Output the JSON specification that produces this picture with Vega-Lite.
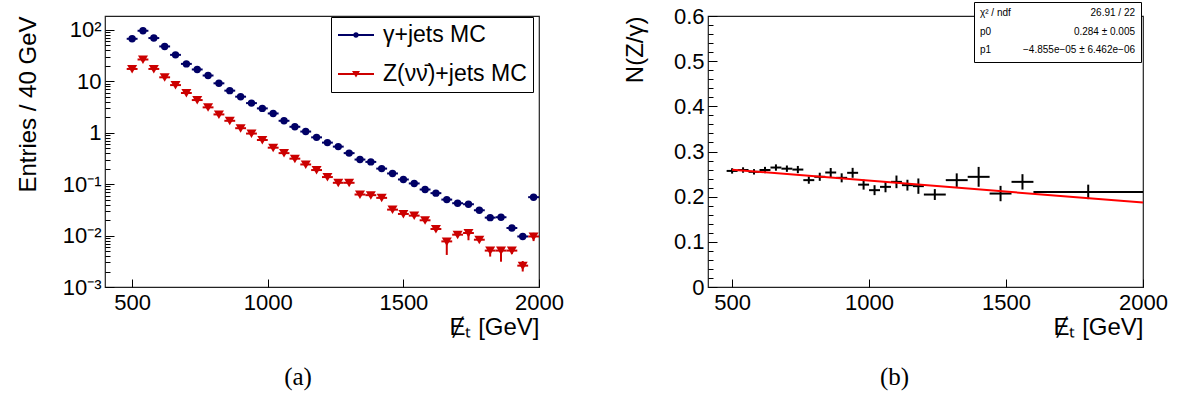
{
  "$schema": "https://vega.github.io/schema/vega-lite/v6.json",
  "padding": {"left": 15, "top": 0, "right": 5, "bottom": 2},
  "bounds": "flush",
  "spacing": 169,
  "background": "white",
  "datasets": {
    "spectra": [
      {"series": "γ+jets MC", "x": 500, "xlo": 480, "xhi": 520, "y": 66.7},
      {"series": "γ+jets MC", "x": 540, "xlo": 520, "xhi": 560, "y": 95.5},
      {"series": "γ+jets MC", "x": 580, "xlo": 560, "xhi": 600, "y": 68.9},
      {"series": "γ+jets MC", "x": 620, "xlo": 600, "xhi": 640, "y": 47.4},
      {"series": "γ+jets MC", "x": 660, "xlo": 640, "xhi": 680, "y": 32.5},
      {"series": "γ+jets MC", "x": 700, "xlo": 680, "xhi": 720, "y": 21.7},
      {"series": "γ+jets MC", "x": 740, "xlo": 720, "xhi": 760, "y": 16.9},
      {"series": "γ+jets MC", "x": 780, "xlo": 760, "xhi": 800, "y": 12.9},
      {"series": "γ+jets MC", "x": 820, "xlo": 800, "xhi": 840, "y": 9.1},
      {"series": "γ+jets MC", "x": 860, "xlo": 840, "xhi": 880, "y": 6.55},
      {"series": "γ+jets MC", "x": 900, "xlo": 880, "xhi": 920, "y": 5.0},
      {"series": "γ+jets MC", "x": 940, "xlo": 920, "xhi": 960, "y": 3.75},
      {"series": "γ+jets MC", "x": 980, "xlo": 960, "xhi": 1000, "y": 2.96},
      {"series": "γ+jets MC", "x": 1020, "xlo": 1000, "xhi": 1040, "y": 2.36},
      {"series": "γ+jets MC", "x": 1060, "xlo": 1040, "xhi": 1080, "y": 1.70},
      {"series": "γ+jets MC", "x": 1100, "xlo": 1080, "xhi": 1120, "y": 1.30},
      {"series": "γ+jets MC", "x": 1140, "xlo": 1120, "xhi": 1160, "y": 1.05},
      {"series": "γ+jets MC", "x": 1180, "xlo": 1160, "xhi": 1200, "y": 0.81},
      {"series": "γ+jets MC", "x": 1220, "xlo": 1200, "xhi": 1240, "y": 0.64},
      {"series": "γ+jets MC", "x": 1260, "xlo": 1240, "xhi": 1280, "y": 0.535},
      {"series": "γ+jets MC", "x": 1300, "xlo": 1280, "xhi": 1320, "y": 0.40},
      {"series": "γ+jets MC", "x": 1340, "xlo": 1320, "xhi": 1360, "y": 0.30},
      {"series": "γ+jets MC", "x": 1380, "xlo": 1360, "xhi": 1400, "y": 0.27},
      {"series": "γ+jets MC", "x": 1420, "xlo": 1400, "xhi": 1440, "y": 0.20},
      {"series": "γ+jets MC", "x": 1460, "xlo": 1440, "xhi": 1480, "y": 0.161},
      {"series": "γ+jets MC", "x": 1500, "xlo": 1480, "xhi": 1520, "y": 0.123},
      {"series": "γ+jets MC", "x": 1540, "xlo": 1520, "xhi": 1560, "y": 0.103},
      {"series": "γ+jets MC", "x": 1580, "xlo": 1560, "xhi": 1600, "y": 0.0785},
      {"series": "γ+jets MC", "x": 1620, "xlo": 1600, "xhi": 1640, "y": 0.0667},
      {"series": "γ+jets MC", "x": 1660, "xlo": 1640, "xhi": 1680, "y": 0.050},
      {"series": "γ+jets MC", "x": 1700, "xlo": 1680, "xhi": 1720, "y": 0.0425},
      {"series": "γ+jets MC", "x": 1740, "xlo": 1720, "xhi": 1760, "y": 0.0406},
      {"series": "γ+jets MC", "x": 1780, "xlo": 1760, "xhi": 1800, "y": 0.031},
      {"series": "γ+jets MC", "x": 1820, "xlo": 1800, "xhi": 1840, "y": 0.0223},
      {"series": "γ+jets MC", "x": 1860, "xlo": 1840, "xhi": 1880, "y": 0.0227},
      {"series": "γ+jets MC", "x": 1900, "xlo": 1880, "xhi": 1920, "y": 0.0140},
      {"series": "γ+jets MC", "x": 1940, "xlo": 1920, "xhi": 1960, "y": 0.0096},
      {"series": "γ+jets MC", "x": 1980, "xlo": 1960, "xhi": 2000, "y": 0.0557},
      {"series": "Z(νν̄)+jets MC", "x": 500, "xlo": 480, "xhi": 520, "y": 17.3},
      {"series": "Z(νν̄)+jets MC", "x": 540, "xlo": 520, "xhi": 560, "y": 26.4},
      {"series": "Z(νν̄)+jets MC", "x": 580, "xlo": 560, "xhi": 600, "y": 17.3},
      {"series": "Z(νν̄)+jets MC", "x": 620, "xlo": 600, "xhi": 640, "y": 11.9},
      {"series": "Z(νν̄)+jets MC", "x": 660, "xlo": 640, "xhi": 680, "y": 8.4},
      {"series": "Z(νν̄)+jets MC", "x": 700, "xlo": 680, "xhi": 720, "y": 5.9},
      {"series": "Z(νν̄)+jets MC", "x": 740, "xlo": 720, "xhi": 760, "y": 4.3},
      {"series": "Z(νν̄)+jets MC", "x": 780, "xlo": 760, "xhi": 800, "y": 3.1},
      {"series": "Z(νν̄)+jets MC", "x": 820, "xlo": 800, "xhi": 840, "y": 2.26},
      {"series": "Z(νν̄)+jets MC", "x": 860, "xlo": 840, "xhi": 880, "y": 1.70},
      {"series": "Z(νν̄)+jets MC", "x": 900, "xlo": 880, "xhi": 920, "y": 1.22},
      {"series": "Z(νν̄)+jets MC", "x": 940, "xlo": 920, "xhi": 960, "y": 0.96},
      {"series": "Z(νν̄)+jets MC", "x": 980, "xlo": 960, "xhi": 1000, "y": 0.72},
      {"series": "Z(νν̄)+jets MC", "x": 1020, "xlo": 1000, "xhi": 1040, "y": 0.51},
      {"series": "Z(νν̄)+jets MC", "x": 1060, "xlo": 1040, "xhi": 1080, "y": 0.40},
      {"series": "Z(νν̄)+jets MC", "x": 1100, "xlo": 1080, "xhi": 1120, "y": 0.312},
      {"series": "Z(νν̄)+jets MC", "x": 1140, "xlo": 1120, "xhi": 1160, "y": 0.241},
      {"series": "Z(νν̄)+jets MC", "x": 1180, "xlo": 1160, "xhi": 1200, "y": 0.1875},
      {"series": "Z(νν̄)+jets MC", "x": 1220, "xlo": 1200, "xhi": 1240, "y": 0.137},
      {"series": "Z(νν̄)+jets MC", "x": 1260, "xlo": 1240, "xhi": 1280, "y": 0.106},
      {"series": "Z(νν̄)+jets MC", "x": 1300, "xlo": 1280, "xhi": 1320, "y": 0.106},
      {"series": "Z(νν̄)+jets MC", "x": 1340, "xlo": 1320, "xhi": 1360, "y": 0.0627},
      {"series": "Z(νν̄)+jets MC", "x": 1380, "xlo": 1360, "xhi": 1400, "y": 0.061},
      {"series": "Z(νν̄)+jets MC", "x": 1420, "xlo": 1400, "xhi": 1440, "y": 0.054},
      {"series": "Z(νν̄)+jets MC", "x": 1460, "xlo": 1440, "xhi": 1480, "y": 0.0319},
      {"series": "Z(νν̄)+jets MC", "x": 1500, "xlo": 1480, "xhi": 1520, "y": 0.0263},
      {"series": "Z(νν̄)+jets MC", "x": 1540, "xlo": 1520, "xhi": 1560, "y": 0.0244},
      {"series": "Z(νν̄)+jets MC", "x": 1580, "xlo": 1560, "xhi": 1600, "y": 0.0198},
      {"series": "Z(νν̄)+jets MC", "x": 1620, "xlo": 1600, "xhi": 1640, "y": 0.0134},
      {"series": "Z(νν̄)+jets MC", "x": 1660, "xlo": 1640, "xhi": 1680, "y": 0.0077, "ylo": 0.0042, "yhi": 0.0089},
      {"series": "Z(νν̄)+jets MC", "x": 1700, "xlo": 1680, "xhi": 1720, "y": 0.0104},
      {"series": "Z(νν̄)+jets MC", "x": 1740, "xlo": 1720, "xhi": 1760, "y": 0.0112, "ylo": 0.0081, "yhi": 0.0128},
      {"series": "Z(νν̄)+jets MC", "x": 1780, "xlo": 1760, "xhi": 1800, "y": 0.0083},
      {"series": "Z(νν̄)+jets MC", "x": 1820, "xlo": 1800, "xhi": 1840, "y": 0.0051, "ylo": 0.0039, "yhi": 0.0058},
      {"series": "Z(νν̄)+jets MC", "x": 1860, "xlo": 1840, "xhi": 1880, "y": 0.0051, "ylo": 0.0031, "yhi": 0.0060},
      {"series": "Z(νν̄)+jets MC", "x": 1900, "xlo": 1880, "xhi": 1920, "y": 0.0051, "ylo": 0.0044, "yhi": 0.0058},
      {"series": "Z(νν̄)+jets MC", "x": 1940, "xlo": 1920, "xhi": 1960, "y": 0.0026, "ylo": 0.0020, "yhi": 0.0032},
      {"series": "Z(νν̄)+jets MC", "x": 1980, "xlo": 1960, "xhi": 2000, "y": 0.0096, "ylo": 0.0078, "yhi": 0.0113}
    ],
    "ratio": [
      {"x": 500, "xlo": 480, "xhi": 520, "y": 0.257, "ylo": 0.251, "yhi": 0.263},
      {"x": 540, "xlo": 520, "xhi": 560, "y": 0.259, "ylo": 0.253, "yhi": 0.265},
      {"x": 580, "xlo": 560, "xhi": 600, "y": 0.255, "ylo": 0.249, "yhi": 0.261},
      {"x": 620, "xlo": 600, "xhi": 640, "y": 0.259, "ylo": 0.252, "yhi": 0.266},
      {"x": 660, "xlo": 640, "xhi": 680, "y": 0.2645, "ylo": 0.2575, "yhi": 0.2715},
      {"x": 700, "xlo": 680, "xhi": 720, "y": 0.262, "ylo": 0.255, "yhi": 0.269},
      {"x": 740, "xlo": 720, "xhi": 760, "y": 0.260, "ylo": 0.252, "yhi": 0.268},
      {"x": 780, "xlo": 760, "xhi": 800, "y": 0.2366, "ylo": 0.2286, "yhi": 0.2446},
      {"x": 820, "xlo": 800, "xhi": 840, "y": 0.244, "ylo": 0.235, "yhi": 0.253},
      {"x": 860, "xlo": 840, "xhi": 880, "y": 0.2535, "ylo": 0.2435, "yhi": 0.2635},
      {"x": 900, "xlo": 880, "xhi": 920, "y": 0.2417, "ylo": 0.2317, "yhi": 0.2517},
      {"x": 940, "xlo": 920, "xhi": 960, "y": 0.2528, "ylo": 0.2418, "yhi": 0.2638},
      {"x": 980, "xlo": 960, "xhi": 1000, "y": 0.2266, "ylo": 0.2156, "yhi": 0.2376},
      {"x": 1020, "xlo": 1000, "xhi": 1040, "y": 0.2144, "ylo": 0.2034, "yhi": 0.2254},
      {"x": 1060, "xlo": 1040, "xhi": 1080, "y": 0.2217, "ylo": 0.2097, "yhi": 0.2337},
      {"x": 1100, "xlo": 1080, "xhi": 1120, "y": 0.2328, "ylo": 0.2188, "yhi": 0.2468},
      {"x": 1140, "xlo": 1120, "xhi": 1160, "y": 0.2255, "ylo": 0.2135, "yhi": 0.2375},
      {"x": 1180, "xlo": 1160, "xhi": 1200, "y": 0.2233, "ylo": 0.2063, "yhi": 0.2403},
      {"x": 1240, "xlo": 1200, "xhi": 1280, "y": 0.2047, "ylo": 0.1927, "yhi": 0.2167},
      {"x": 1320, "xlo": 1280, "xhi": 1360, "y": 0.2366, "ylo": 0.2216, "yhi": 0.2516},
      {"x": 1400, "xlo": 1360, "xhi": 1440, "y": 0.2439, "ylo": 0.2219, "yhi": 0.2659},
      {"x": 1480, "xlo": 1440, "xhi": 1520, "y": 0.2069, "ylo": 0.1899, "yhi": 0.2239},
      {"x": 1560, "xlo": 1520, "xhi": 1600, "y": 0.2328, "ylo": 0.2158, "yhi": 0.2498},
      {"x": 1800, "xlo": 1600, "xhi": 2000, "y": 0.2106, "ylo": 0.1946, "yhi": 0.2266}
    ],
    "fit": [
      {"x": 500, "y": 0.2597},
      {"x": 2000, "y": 0.1869}
    ],
    "stats": [
      {"ord": 1, "name": "χ² / ndf", "value": "26.91 / 22"},
      {"ord": 2, "name": "p0", "value": "0.284 ± 0.005"},
      {"ord": 3, "name": "p1", "value": "−4.855e−05 ± 6.462e−06"}
    ]
  },
  "hconcat": [
    {
      "width": 434,
      "height": 271,
      "title": {"text": "(a)", "orient": "bottom", "anchor": "middle", "frame": "group", "dx": -24, "offset": 26, "font": "Liberation Serif", "fontSize": 25, "fontWeight": "normal", "color": "black"},
      "data": {"name": "spectra"},
      "resolve": {"axis": {"y": "independent"}},
      "layer": [
        {
          "mark": {"type": "rule", "strokeWidth": 2},
          "encoding": {
            "x": {"field": "xlo", "type": "quantitative", "scale": {"domain": [400, 2000], "nice": false, "zero": false},
                  "axis": {"values": [500, 1000, 1500, 2000], "format": "d", "tickSize": -8, "labelPadding": 13, "title": "Ɇₜ [GeV]", "titleAnchor": "end", "titlePadding": 2}},
            "x2": {"field": "xhi"},
            "y": {"field": "y", "type": "quantitative", "scale": {"type": "log", "domain": [0.001, 185], "nice": false},
                  "axis": {"orient": "left", "values": [0.001, 0.01, 0.1, 1, 10, 100], "tickSize": -9, "labelPadding": 13,
                           "labelExpr": "round(log(datum.value)/LN10) == 2 ? '10²' : round(log(datum.value)/LN10) == 1 ? '10' : round(log(datum.value)/LN10) == 0 ? '1' : round(log(datum.value)/LN10) == -1 ? '10⁻¹' : round(log(datum.value)/LN10) == -2 ? '10⁻²' : '10⁻³'",
                           "title": "Entries / 40 GeV", "titleAnchor": "end", "titlePadding": 23, "minExtent": 42, "maxExtent": 42}},
            "color": {"field": "series", "type": "nominal",
                      "scale": {"domain": ["γ+jets MC", "Z(νν̄)+jets MC"], "range": ["#000066", "#cc0000"]},
                      "legend": {
                        "orient": "none", "legendX": 226, "legendY": 1, "title": null,
                        "strokeColor": "#000", "fillColor": "white", "padding": 6,
                        "labelFont": "Liberation Sans", "labelFontSize": 23, "labelColor": "black", "labelLimit": 400,
                        "labelOffset": 22, "rowPadding": 15, "symbolSize": 576, "symbolStrokeWidth": 0, "symbolOpacity": 1
                      }}
          }
        },
        {
          "mark": {"type": "rule", "strokeWidth": 2},
          "encoding": {
            "x": {"field": "x", "type": "quantitative", "scale": {"domain": [400, 2000], "nice": false, "zero": false}},
            "y": {"field": "ylo", "type": "quantitative", "scale": {"type": "log", "domain": [0.001, 185], "nice": false},
                  "axis": {"orient": "left", "labels": false, "title": null, "tickSize": -5,
                           "values": [0.002, 0.003, 0.004, 0.005, 0.006, 0.007, 0.008, 0.009, 0.02, 0.03, 0.04, 0.05, 0.06, 0.07, 0.08, 0.09, 0.2, 0.3, 0.4, 0.5, 0.6, 0.7, 0.8, 0.9, 2, 3, 4, 5, 6, 7, 8, 9, 20, 30, 40, 50, 60, 70, 80, 90]}},
            "y2": {"field": "yhi"},
            "color": {"field": "series", "type": "nominal"}
          }
        },
        {
          "transform": [{"filter": {"field": "series", "equal": "γ+jets MC"}}],
          "mark": {"type": "point", "filled": true, "opacity": 1, "size": 55, "strokeWidth": 0, "shape": "circle"},
          "encoding": {
            "x": {"field": "x", "type": "quantitative", "scale": {"domain": [400, 2000], "nice": false, "zero": false}},
            "y": {"field": "y", "type": "quantitative", "scale": {"type": "log", "domain": [0.001, 185], "nice": false}, "axis": null},
            "color": {"field": "series", "type": "nominal"}
          }
        },
        {
          "transform": [{"filter": {"field": "series", "equal": "Z(νν̄)+jets MC"}}],
          "mark": {"type": "point", "filled": true, "opacity": 1, "size": 55, "strokeWidth": 0, "shape": "M-1.35,-1.08L1.35,-1.08L0,1.21Z"},
          "encoding": {
            "x": {"field": "x", "type": "quantitative", "scale": {"domain": [400, 2000], "nice": false, "zero": false}},
            "y": {"field": "y", "type": "quantitative", "scale": {"type": "log", "domain": [0.001, 185], "nice": false}, "axis": null},
            "color": {"field": "series", "type": "nominal"}
          }
        },
        {
          "mark": {"type": "point", "filled": true, "opacity": 0, "size": 576, "strokeWidth": 0},
          "encoding": {
            "color": {"field": "series", "type": "nominal"},
            "shape": {"field": "series", "type": "nominal",
                      "scale": {"domain": ["γ+jets MC", "Z(νν̄)+jets MC"],
                                "range": ["M-0.917,-0.09H2.083V0.09H-0.917ZM0.816,0A0.233,0.233,0,1,1,0.35,0A0.233,0.233,0,1,1,0.816,0Z", "M-0.917,-0.09H2.083V0.09H-0.917ZM0.25,-0.25L0.916,-0.25L0.583,0.3Z"]}}
          }
        }
      ]
    },
    {
      "width": 435,
      "height": 271,
      "title": {"text": "(b)", "orient": "bottom", "anchor": "middle", "frame": "group", "dx": -31, "offset": 26, "font": "Liberation Serif", "fontSize": 25, "fontWeight": "normal", "color": "black"},
      "resolve": {"axis": {"y": "independent"}},
      "layer": [
        {
          "data": {"name": "ratio"},
          "mark": {"type": "rule", "strokeWidth": 2, "color": "black"},
          "encoding": {
            "x": {"field": "xlo", "type": "quantitative", "scale": {"domain": [412, 2000], "nice": false, "zero": false},
                  "axis": {"values": [500, 1000, 1500, 2000], "format": "d", "tickSize": -8, "labelPadding": 13, "title": "Ɇₜ [GeV]", "titleAnchor": "end", "titlePadding": 2}},
            "x2": {"field": "xhi"},
            "y": {"field": "y", "type": "quantitative", "scale": {"domain": [0, 0.6], "nice": false, "zero": false},
                  "axis": {"orient": "left", "values": [0, 0.1, 0.2, 0.3, 0.4, 0.5, 0.6], "format": ".1~f", "tickSize": -9, "labelPadding": 13,
                           "title": "N(Z/γ)", "titleAnchor": "end", "titlePadding": 26, "minExtent": 35, "maxExtent": 35}}
          }
        },
        {
          "data": {"name": "ratio"},
          "mark": {"type": "rule", "strokeWidth": 2, "color": "black"},
          "encoding": {
            "x": {"field": "x", "type": "quantitative", "scale": {"domain": [412, 2000], "nice": false, "zero": false}},
            "y": {"field": "ylo", "type": "quantitative", "scale": {"domain": [0, 0.6], "nice": false, "zero": false},
                  "axis": {"orient": "left", "labels": false, "title": null, "tickSize": -5,
                           "values": [0.02, 0.04, 0.06, 0.08, 0.12, 0.14, 0.16, 0.18, 0.22, 0.24, 0.26, 0.28, 0.32, 0.34, 0.36, 0.38, 0.42, 0.44, 0.46, 0.48, 0.52, 0.54, 0.56, 0.58]}},
            "y2": {"field": "yhi"}
          }
        },
        {
          "data": {"name": "fit"},
          "mark": {"type": "line", "color": "#ff0000", "strokeWidth": 2},
          "encoding": {
            "x": {"field": "x", "type": "quantitative", "scale": {"domain": [412, 2000], "nice": false, "zero": false}},
            "y": {"field": "y", "type": "quantitative", "scale": {"domain": [0, 0.6], "nice": false, "zero": false}, "axis": null}
          }
        },
        {
          "data": {"name": "stats"},
          "mark": {"type": "point", "opacity": 0},
          "encoding": {
            "shape": {"field": "value", "type": "nominal", "sort": {"field": "ord", "op": "min"},
                      "legend": {
                        "orient": "none", "legendX": 266, "legendY": -14,
                        "title": ["χ² / ndf", "p0", "p1"], "titleOrient": "left", "titleAnchor": "start", "titleBaseline": "top", "titleAlign": "left",
                        "titleFont": "Liberation Sans", "titleFontSize": 10, "titleFontWeight": "normal", "titleColor": "black",
                        "titleLineHeight": 18.7, "titlePadding": 114, "titleLimit": 200,
                        "labelFont": "Liberation Sans", "labelFontSize": 10, "labelColor": "black", "labelAlign": "right", "labelOffset": 0, "labelLimit": 300,
                        "rowPadding": 8.7, "symbolSize": 1, "symbolOpacity": 0, "symbolStrokeWidth": 0,
                        "strokeColor": "#000", "fillColor": "white", "padding": 6
                      }}
          }
        }
      ]
    }
  ],
  "resolve": {"scale": {"color": "independent", "shape": "independent"}, "legend": {"color": "independent", "shape": "independent"}},
  "config": {
    "view": {"stroke": "#222", "strokeWidth": 1.2},
    "font": "Liberation Sans",
    "axis": {
      "labelFont": "Liberation Sans", "titleFont": "Liberation Sans",
      "labelFontSize": 22, "titleFontSize": 24, "labelColor": "black", "titleColor": "black",
      "titleFontWeight": "normal", "tickColor": "black", "tickWidth": 1,
      "domain": false, "grid": false, "labelFlush": false, "labelOverlap": false
    }
  }
}
